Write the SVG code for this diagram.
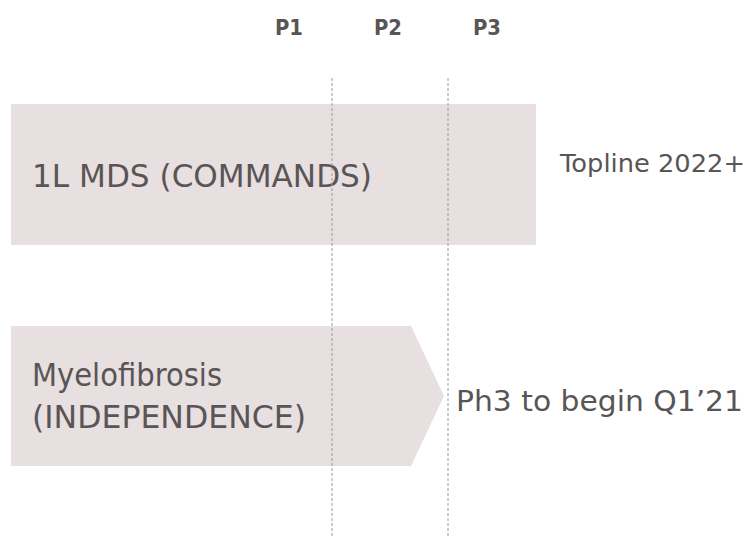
<svg xmlns="http://www.w3.org/2000/svg" width="756" height="536" viewBox="0 0 756 536">
<style>
.bg{fill:#ffffff}
.box{fill:#e7dfe0}
.lbl{font-family:"DejaVu Sans",sans-serif;fill:#595555}
.big{font-size:32px}
.mid{font-size:28px}
.top{font-size:25px}
.ph{font-family:"DejaVu Sans",sans-serif;font-weight:bold;font-size:22px;fill:#595555;text-anchor:middle}
.dash{stroke:#9a9a9a;stroke-width:1;stroke-dasharray:3 2;fill:none}
</style>
<rect class="bg" x="0" y="0" width="756" height="536"/>
<g id="phases">
<text class="ph" x="289" y="35" textLength="28" lengthAdjust="spacingAndGlyphs">P1</text>
<text class="ph" x="388" y="35" textLength="28" lengthAdjust="spacingAndGlyphs">P2</text>
<text class="ph" x="487" y="35" textLength="28" lengthAdjust="spacingAndGlyphs">P3</text>
</g>
<g id="node-mds">
<rect class="box" x="11" y="104" width="525" height="141"/>
<text class="lbl big" x="32" y="187" textLength="340" lengthAdjust="spacingAndGlyphs">1L MDS (COMMANDS)</text>
</g>
<g id="node-mf">
<polygon class="box" points="11,326 411,326 444,396 411,466 11,466"/>
<text class="lbl big" x="32" y="386" textLength="190" lengthAdjust="spacingAndGlyphs">Myelofibrosis</text>
<text class="lbl big" x="32" y="428" textLength="274" lengthAdjust="spacingAndGlyphs">(INDEPENDENCE)</text>
</g>
<g id="note-topline">
<text class="lbl top" x="560" y="172" textLength="185" lengthAdjust="spacingAndGlyphs">Topline 2022+</text>
</g>
<g id="note-ph3">
<text class="lbl mid" x="456" y="411" textLength="287" lengthAdjust="spacingAndGlyphs">Ph3 to begin Q1’21</text>
</g>
<g id="connectors">
<line class="dash" x1="332" y1="78" x2="332" y2="536"/>
<line class="dash" x1="448" y1="78" x2="448" y2="536"/>
</g>
</svg>
